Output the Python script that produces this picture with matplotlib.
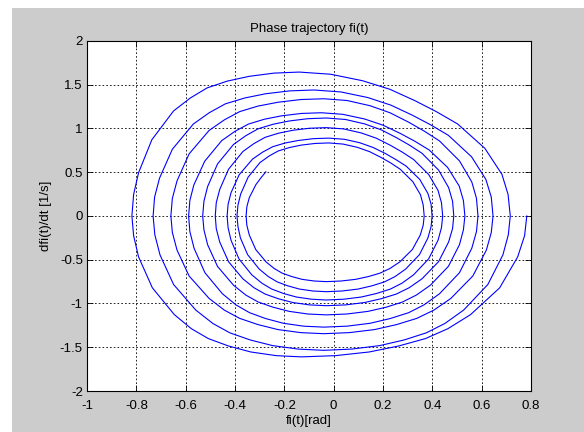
import matplotlib
matplotlib.use("Agg")
import matplotlib.pyplot as plt
from matplotlib.patches import Rectangle

plt.rcParams['font.family'] = ['Liberation Sans', 'DejaVu Sans']
plt.rcParams['axes.unicode_minus'] = False

# Phase trajectory, one list pair per revolution
loop1_fi = [0.783, 0.774, 0.746, 0.673, 0.555, 0.463, 0.372, 0.263, 0.144, 0.007, -0.13,
            -0.233, -0.336, -0.426, -0.508, -0.577, -0.646, -0.735, -0.791, -0.811, -0.818,
            -0.811, -0.791, -0.737, -0.649, -0.581, -0.513, -0.432, -0.343, -0.242, -0.14,
            -0.012, 0.117, 0.228, 0.331, 0.416, 0.502, 0.613, 0.682, 0.707, 0.716]
loop1_dfi = [0, -0.225, -0.467, -0.821, -1.127, -1.288, -1.401, -1.486, -1.554, -1.596, -1.61,
             -1.596, -1.554, -1.486, -1.401, -1.288, -1.127, -0.821, -0.467, -0.225, 0,
             0.247, 0.494, 0.872, 1.201, 1.349, 1.464, 1.541, 1.596, 1.633, 1.645,
             1.620, 1.546, 1.448, 1.316, 1.193, 1.053, 0.773, 0.477, 0.247, 0]

loop2_fi = [0.716, 0.708, 0.686, 0.625, 0.527, 0.451, 0.376, 0.285, 0.187, 0.073, -0.04,
            -0.144, -0.248, -0.338, -0.421, -0.490, -0.559, -0.649, -0.704, -0.725, -0.732,
            -0.726, -0.706, -0.654, -0.569, -0.504, -0.439, -0.360, -0.276, -0.178, -0.08,
            0.029, 0.138, 0.232, 0.319, 0.392, 0.465, 0.559, 0.617, 0.639, 0.646]
loop2_dfi = [0, -0.215, -0.445, -0.783, -1.075, -1.228, -1.335, -1.417, -1.481, -1.521, -1.535,
             -1.521, -1.481, -1.417, -1.335, -1.228, -1.075, -0.783, -0.445, -0.215, 0,
             0.216, 0.432, 0.763, 1.051, 1.181, 1.282, 1.349, 1.397, 1.430, 1.44,
             1.418, 1.354, 1.267, 1.152, 1.044, 0.922, 0.677, 0.418, 0.216, 0]

loop3_fi = [0.646, 0.639, 0.619, 0.564, 0.475, 0.406, 0.337, 0.255, 0.166, 0.063, -0.04,
            -0.133, -0.226, -0.307, -0.381, -0.443, -0.505, -0.586, -0.635, -0.654, -0.66,
            -0.654, -0.635, -0.586, -0.505, -0.443, -0.381, -0.307, -0.226, -0.133, -0.04,
            0.054, 0.148, 0.229, 0.304, 0.366, 0.429, 0.510, 0.560, 0.579, 0.585]
loop3_dfi = [0, -0.188, -0.390, -0.686, -0.942, -1.076, -1.170, -1.241, -1.298, -1.333, -1.345,
             -1.333, -1.298, -1.241, -1.170, -1.076, -0.942, -0.686, -0.390, -0.188, 0,
             0.201, 0.402, 0.710, 0.978, 1.099, 1.193, 1.256, 1.300, 1.331, 1.34,
             1.320, 1.260, 1.179, 1.072, 0.972, 0.858, 0.630, 0.389, 0.201, 0]

loop4_fi = [0.585, 0.579, 0.560, 0.510, 0.429, 0.366, 0.304, 0.229, 0.148, 0.054, -0.04,
            -0.122, -0.204, -0.276, -0.341, -0.396, -0.451, -0.522, -0.566, -0.583, -0.588,
            -0.583, -0.567, -0.523, -0.454, -0.400, -0.346, -0.281, -0.211, -0.131, -0.05,
            0.037, 0.125, 0.200, 0.270, 0.328, 0.387, 0.462, 0.509, 0.526, 0.532]
loop4_dfi = [0, -0.178, -0.368, -0.648, -0.889, -1.016, -1.105, -1.172, -1.226, -1.259, -1.27,
             -1.259, -1.226, -1.172, -1.105, -1.016, -0.889, -0.648, -0.368, -0.178, 0,
             0.177, 0.354, 0.625, 0.861, 0.968, 1.050, 1.106, 1.145, 1.172, 1.18,
             1.162, 1.109, 1.038, 0.944, 0.856, 0.755, 0.555, 0.342, 0.177, 0]

loop5_fi = [0.532, 0.526, 0.510, 0.465, 0.392, 0.335, 0.279, 0.212, 0.139, 0.054, -0.03,
            -0.105, -0.180, -0.245, -0.306, -0.356, -0.406, -0.471, -0.511, -0.526, -0.531,
            -0.526, -0.511, -0.471, -0.406, -0.356, -0.306, -0.245, -0.180, -0.105, -0.03,
            0.048, 0.125, 0.192, 0.254, 0.306, 0.358, 0.425, 0.466, 0.482, 0.487]
loop5_dfi = [0, -0.158, -0.328, -0.576, -0.791, -0.904, -0.983, -1.043, -1.090, -1.120, -1.13,
             -1.120, -1.090, -1.043, -0.983, -0.904, -0.791, -0.576, -0.328, -0.158, 0,
             0.168, 0.336, 0.594, 0.818, 0.918, 0.997, 1.049, 1.086, 1.112, 1.12,
             1.103, 1.053, 0.986, 0.896, 0.812, 0.717, 0.526, 0.325, 0.168, 0]

loop6_fi = [0.487, 0.482, 0.466, 0.425, 0.358, 0.306, 0.254, 0.192, 0.125, 0.048, -0.03,
            -0.098, -0.165, -0.224, -0.278, -0.323, -0.368, -0.426, -0.462, -0.476, -0.48,
            -0.476, -0.462, -0.426, -0.368, -0.323, -0.278, -0.224, -0.165, -0.098, -0.03,
            0.041, 0.112, 0.173, 0.230, 0.277, 0.324, 0.385, 0.423, 0.437, 0.442]
loop6_dfi = [0, -0.144, -0.297, -0.523, -0.718, -0.820, -0.892, -0.946, -0.989, -1.016, -1.025,
             -1.016, -0.989, -0.946, -0.892, -0.820, -0.718, -0.523, -0.297, -0.144, 0,
             0.152, 0.303, 0.535, 0.737, 0.828, 0.899, 0.946, 0.980, 1.003, 1.01,
             0.995, 0.949, 0.889, 0.808, 0.732, 0.646, 0.475, 0.293, 0.152, 0]

loop7_fi = [0.442, 0.437, 0.423, 0.385, 0.324, 0.277, 0.230, 0.173, 0.112, 0.041, -0.03,
            -0.090, -0.151, -0.203, -0.251, -0.291, -0.332, -0.384, -0.416, -0.428, -0.432,
            -0.428, -0.416, -0.383, -0.329, -0.288, -0.247, -0.197, -0.144, -0.082, -0.02,
            0.043, 0.106, 0.160, 0.211, 0.252, 0.294, 0.349, 0.382, 0.395, 0.399]
loop7_dfi = [0, -0.134, -0.278, -0.490, -0.672, -0.768, -0.835, -0.886, -0.926, -0.951, -0.96,
             -0.951, -0.926, -0.886, -0.835, -0.768, -0.672, -0.490, -0.278, -0.134, 0,
             0.134, 0.267, 0.472, 0.650, 0.730, 0.792, 0.834, 0.863, 0.884, 0.89,
             0.877, 0.837, 0.783, 0.712, 0.645, 0.570, 0.418, 0.258, 0.134, 0]

loop8_fi = [0.399, 0.395, 0.382, 0.348, 0.292, 0.249, 0.206, 0.155, 0.099, 0.034, -0.03,
            -0.084, -0.139, -0.186, -0.229, -0.265, -0.302, -0.349, -0.378, -0.388, -0.392,
            -0.388, -0.377, -0.347, -0.299, -0.262, -0.225, -0.180, -0.132, -0.076, -0.02,
            0.038, 0.096, 0.146, 0.193, 0.232, 0.270, 0.321, 0.352, 0.363, 0.367]
loop8_dfi = [0, -0.121, -0.251, -0.441, -0.606, -0.692, -0.753, -0.798, -0.835, -0.857, -0.865,
             -0.857, -0.835, -0.798, -0.753, -0.692, -0.606, -0.441, -0.251, -0.121, 0,
             0.125, 0.251, 0.443, 0.610, 0.685, 0.743, 0.782, 0.810, 0.829, 0.835,
             0.822, 0.785, 0.735, 0.668, 0.605, 0.534, 0.392, 0.242, 0.125, 0]

loop9_fi = [0.367, 0.363, 0.351, 0.319, 0.268, 0.228, 0.188, 0.141, 0.089, 0.030, -0.03,
            -0.079, -0.128, -0.170, -0.209, -0.241, -0.274, -0.316, -0.342, -0.352, -0.355,
            -0.352, -0.342, -0.315, -0.295, -0.275]
loop9_dfi = [0, -0.105, -0.218, -0.383, -0.525, -0.600, -0.653, -0.692, -0.724, -0.743, -0.75,
             -0.743, -0.724, -0.692, -0.653, -0.600, -0.525, -0.383, -0.218, -0.105, 0,
             0.105, 0.21, 0.36, 0.435, 0.505]

x_ticks = [-1, -0.8, -0.6, -0.4, -0.2, 0, 0.2, 0.4, 0.6, 0.8]
x_tick_labels = ['-1', '-0.8', '-0.6', '-0.4', '-0.2', '0', '0.2', '0.4', '0.6', '0.8']
y_ticks = [-2, -1.5, -1, -0.5, 0, 0.5, 1, 1.5, 2]
y_tick_labels = ['-2', '-1.5', '-1', '-0.5', '0', '0.5', '1', '1.5', '2']

fi = (loop1_fi + loop2_fi + loop3_fi + loop4_fi + loop5_fi + loop6_fi + loop7_fi + loop8_fi + loop9_fi)
dfi = (loop1_dfi + loop2_dfi + loop3_dfi + loop4_dfi + loop5_dfi + loop6_dfi + loop7_dfi + loop8_dfi + loop9_dfi)

W, H = 584, 432
fig = plt.figure(figsize=(W / 100, H / 100), dpi=100, facecolor='white')
fig.patches.append(Rectangle((12 / W, 0), 1 - 12 / W, 1 - 8 / H, transform=fig.transFigure,
                             facecolor='#cccccc', edgecolor='none', zorder=-10))

ax = fig.add_axes([87 / W, 1 - 391 / H, (531 - 87) / W, (391 - 41) / H])
ax.set_facecolor('white')
ax.plot(fi, dfi, color='#0000ff', linewidth=0.8, zorder=3)

ax.set_xlim(-1, 0.8)
ax.set_ylim(-2, 2)
ax.set_xticks(x_ticks)
ax.set_xticklabels(x_tick_labels)
ax.set_yticks(y_ticks)
ax.set_yticklabels(y_tick_labels)
ax.grid(True, color='black', linestyle=(0, (2, 2.5)), linewidth=0.6)
ax.tick_params(direction='in', length=4, width=0.6, top=True, right=True,
               labelsize=9.5, colors='black')
ax.tick_params(axis='x', pad=6.5)
ax.tick_params(axis='y', pad=3)
for s in ax.spines.values():
    s.set_linewidth(0.8)
    s.set_color('black')

ax.set_title('Phase trajectory fi(t)', fontsize=9.5, pad=6.5)
ax.set_xlabel('fi(t)[rad]', fontsize=9.5, labelpad=2)
ax.set_ylabel('dfi(t)/dt [1/s]', fontsize=9.5, labelpad=6)

fig.savefig('out.png', dpi=100, facecolor=fig.get_facecolor())
